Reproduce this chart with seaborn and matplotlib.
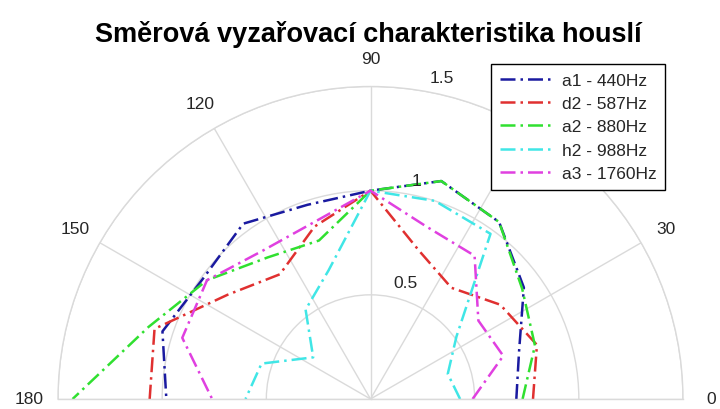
import numpy as np
import pandas as pd
import seaborn as sns
import matplotlib.pyplot as plt

# Measured directivity of a violin, normalised to 1 at 90 deg
angles_deg = [0, 18, 36, 54, 72, 90, 108, 126, 144, 162, 180]
a1_440 = [0.70, 0.75, 0.91, 1.05, 1.10, 1.00, 0.98, 1.04, 0.99, 1.05, 0.98]
d2_587 = [0.78, 0.84, 0.77, 0.66, 0.75, 1.00, 0.87, 0.74, 0.85, 1.09, 1.06]
a2_880 = [0.73, 0.83, 0.90, 1.05, 1.10, 1.00, 0.80, 0.84, 0.97, 1.12, 1.43]
h2_988 = [0.43, 0.39, 0.51, 0.98, 1.00, 1.00, 0.65, 0.53, 0.34, 0.55, 0.60]
a3_1760 = [0.49, 0.67, 0.64, 0.85, 0.87, 1.00, 0.89, 0.88, 0.97, 0.95, 0.76]

series_names = ['a1 - 440Hz', 'd2 - 587Hz', 'a2 - 880Hz', 'h2 - 988Hz', 'a3 - 1760Hz']
series_values = [a1_440, d2_587, a2_880, h2_988, a3_1760]
series_colors = ['#1a1aa0', '#e03030', '#30e030', '#40e6e6', '#e040e0']

theta_ticks = [0, 30, 60, 90, 120, 150, 180]
r_ticks = [0.5, 1.0, 1.5]
r_tick_labels = ['0.5', '1', '1.5']
r_label_angle = 80

rows = []
for name, vals in zip(series_names, series_values):
    for a, r in zip(angles_deg, vals):
        rows.append({'series': name, 'theta': np.deg2rad(a), 'r': r})
df = pd.DataFrame(rows)

sns.set_style('white')
plt.rcParams['font.family'] = ['Liberation Sans', 'DejaVu Sans']

fig = plt.figure(figsize=(7.2, 4.1), dpi=100)
# polar wedge bbox is padded to a square, so the half disc sits in the middle half
ax = fig.add_axes([58 / 720, -146.25 / 410, 625 / 720, 625 / 410], projection='polar')
ax.set_thetamin(0)
ax.set_thetamax(180)

dash_dot = (0, (6, 2, 1, 2))
for name, color in zip(series_names, series_colors):
    sub = df[df['series'] == name]
    sns.lineplot(data=sub, x='theta', y='r', ax=ax, color=color, linestyle=dash_dot,
                 linewidth=1.8, label=name, sort=False, errorbar=None, legend=False)

ax.set_ylim(0, 1.5)
ax.set_yticks(r_ticks)
ax.set_yticklabels([])
for r, lab in zip(r_ticks, r_tick_labels):
    ax.annotate(lab, xy=(np.deg2rad(r_label_angle), r), xytext=(3.6, 4.5),
                textcoords='offset points', ha='left', va='bottom',
                fontsize=12.5, color='#262626')
ax.set_xticks(np.deg2rad(theta_ticks))
ax.set_xticklabels([str(t) for t in theta_ticks], fontsize=12.5, color='#262626')
ax.tick_params(axis='x', pad=10)
ax.grid(True, color='#dadada', linewidth=1, linestyle='-')
for sp in ax.spines.values():
    sp.set_color('#dadada')
    sp.set_linewidth(1)
ax.set_xlabel('')
ax.set_ylabel('')

leg = ax.legend(loc='upper right', bbox_to_anchor=(665 / 720, 1 - 65 / 410),
                bbox_transform=fig.transFigure, fontsize=12.5, frameon=True,
                fancybox=False, framealpha=1, edgecolor='black', borderpad=0.5,
                labelspacing=0.47, handlelength=3.0, handletextpad=0.55,
                borderaxespad=0)
leg.get_frame().set_linewidth(1)

fig.text(0.512, 1 - 35 / 410, 'Směrová vyzařovací charakteristika houslí',
         ha='center', va='center', fontsize=19.5, fontweight='bold', color='black')

fig.savefig('out.png', dpi=100)
